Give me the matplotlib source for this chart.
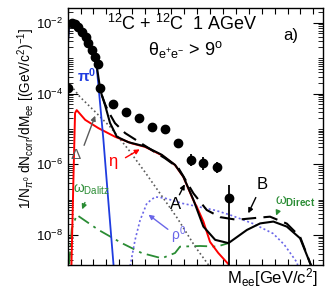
import matplotlib
matplotlib.use("Agg")
import matplotlib.pyplot as plt
import numpy as np
from matplotlib.ticker import LogLocator, FuncFormatter, MultipleLocator, NullFormatter, FixedLocator

plt.rcParams['font.family'] = ['Liberation Sans', 'DejaVu Sans']
plt.rcParams['mathtext.fontset'] = 'custom'
plt.rcParams['mathtext.rm'] = 'Liberation Sans'
plt.rcParams['mathtext.it'] = 'Liberation Sans:italic'
plt.rcParams['mathtext.bf'] = 'Liberation Sans:bold'

# measured spectrum (GeV/c^2, yield)
m_data = [0.004, 0.020, 0.036, 0.051, 0.070, 0.087, 0.099, 0.116, 0.130, 0.145, 0.157,
          0.221, 0.283, 0.345, 0.407, 0.471, 0.532, 0.595, 0.656, 0.721, 0.782]
y_data = [1.43e-4, 9.6e-3, 9.2e-3, 7.6e-3, 5.6e-3, 3.9e-3, 2.7e-3, 1.7e-3, 1.07e-3, 6.8e-4, 1.43e-4,
          5.0e-5, 3.0e-5, 2.0e-5, 1.15e-5, 9.7e-6, 3.9e-6, 1.33e-6, 1.12e-6, 8.6e-7, 1.1e-7]
err_lo = [0, 0, 0, 0, 0, 0, 0, 0, 0, 0, 0,
          0, 0, 0, 0, 0, 0, 4.4e-7, 4.3e-7, 3.0e-7, 1.099e-7]
err_hi = [0, 0, 0, 0, 0, 0, 0, 0, 0, 0, 0,
          0, 0, 0, 0, 0, 0, 6.2e-7, 5.0e-7, 3.0e-7, 1.5e-7]

# model curves
m_total = [0.002, 0.006, 0.012, 0.020, 0.040, 0.060, 0.080, 0.100, 0.120, 0.140, 0.150, 0.157,
           0.165, 0.181, 0.205, 0.238, 0.294, 0.374, 0.455, 0.519, 0.559, 0.608, 0.656, 0.713,
           0.777, 0.866, 0.930, 0.994, 1.059, 1.123, 1.180]
y_total = [3.0e-3, 7.5e-3, 9.8e-3, 1.0e-2, 8.3e-3, 6.3e-3, 4.4e-3, 2.6e-3, 1.45e-3, 6.5e-4, 2.6e-4, 1.4e-4,
           9.1e-5, 4.7e-5, 1.47e-5, 6.0e-6, 4.2e-6, 3.2e-6, 1.85e-6, 9.6e-7, 4.5e-7, 9.8e-8, 1.73e-8, 7.3e-9,
           5.9e-9, 1.39e-8, 2.13e-8, 2.4e-8, 1.73e-8, 8.1e-9, 1.2e-9]

m_modelB = [0.165, 0.181, 0.197, 0.229, 0.278, 0.342, 0.407, 0.471, 0.535, 0.559, 0.608, 0.672,
            0.737, 0.817, 0.898, 0.978, 1.059, 1.123, 1.180]
y_modelB = [9.1e-5, 5.0e-5, 3.1e-5, 1.45e-5, 7.6e-6, 4.4e-6, 2.5e-6, 1.47e-6, 7.9e-7, 4.6e-7, 1.5e-7, 5.1e-8,
            3.2e-8, 2.7e-8, 3.0e-8, 3.3e-8, 2.1e-8, 8.9e-9, 1.2e-9]

m_pi0 = [0.002, 0.006, 0.012, 0.020, 0.040, 0.060, 0.080, 0.100, 0.120, 0.140, 0.150, 0.173, 0.197, 0.224]
y_pi0 = [3.0e-3, 7.5e-3, 9.8e-3, 1.0e-2, 8.3e-3, 6.3e-3, 4.4e-3, 2.6e-3, 1.45e-3, 6.0e-4, 1.45e-4, 4.9e-6,
         8.7e-8, 1.0e-9]

m_eta = [0.018, 0.028, 0.036, 0.044, 0.085, 0.149, 0.229, 0.310, 0.374, 0.455, 0.519, 0.559, 0.608,
         0.624, 0.656, 0.688, 0.728, 0.777, 0.782]
y_eta = [1.0e-9, 3.6e-7, 2.8e-5, 3.4e-5, 1.8e-5, 1.05e-5, 6.0e-6, 3.9e-6, 3.1e-6, 1.8e-6, 9.5e-7, 4.4e-7,
         9.5e-8, 6.3e-8, 2.4e-8, 6.4e-9, 3.1e-9, 1.5e-9, 1.0e-9]

m_delta = [0.015, 0.060, 0.125, 0.205, 0.294, 0.374, 0.450, 0.530, 0.616, 0.700]
y_delta = [1.7e-4, 8.0e-5, 3.4e-5, 1.15e-5, 2.6e-6, 6.0e-7, 1.4e-7, 3.0e-8, 4.7e-9, 1.0e-9]

m_omega_dal = [0.008, 0.020, 0.044, 0.149, 0.262, 0.358, 0.455, 0.519, 0.543, 0.640, 0.721, 0.777]
y_omega_dal = [1.5e-9, 1.5e-8, 3.7e-8, 1.4e-8, 5.9e-9, 3.1e-9, 2.2e-9, 3.1e-9, 4.7e-9, 4.9e-9, 4.7e-9, 5.9e-9]

m_rho = [0.298, 0.326, 0.350, 0.383, 0.423, 0.471, 0.552, 0.616, 0.713, 0.785, 0.896, 0.993, 1.046,
         1.109, 1.115]
y_rho = [1.0e-9, 7.3e-9, 2.6e-8, 7.9e-8, 1.2e-7, 1.1e-7, 7.9e-8, 6.6e-8, 5.0e-8, 3.7e-8, 2.1e-8, 1.1e-8,
         5.4e-9, 1.65e-9, 1.0e-9]

# labelled decades on the y axis
y_labelled = [1e-8, 1e-6, 1e-4, 1e-2]
y_unlabelled = [1e-9, 1e-7, 1e-5, 1e-3]

c_blue = '#1f3ce0'
c_rho = '#6a66e8'
c_green = '#2a8c34'
c_gray = '#5a5a5a'

fig = plt.figure(figsize=(3.25, 2.89), dpi=100)
ax = fig.add_axes([0.208, 0.083, 0.786, 0.889])

ax.plot(m_omega_dal, y_omega_dal, color=c_green, lw=1.3, dashes=(7, 3, 1.5, 3))
ax.plot(m_rho, y_rho, color=c_rho, lw=1.2, ls=(0, (1.2, 1.5)))
ax.plot(m_delta, y_delta, color=c_gray, lw=1.2, ls=(0, (1, 1.6)))
ax.plot(m_eta, y_eta, color='red', lw=1.4)
ax.plot(m_pi0, y_pi0, color=c_blue, lw=1.3)
ax.plot(m_modelB, y_modelB, color='black', lw=1.5, dashes=(7, 3.5))
ax.plot(m_total, y_total, color='black', lw=1.5)
ax.errorbar(m_data, y_data, yerr=[err_lo, err_hi], fmt='o', color='black', ms=6, elinewidth=1.3,
            capsize=0, zorder=5)

ax.set_yscale('log')
ax.set_xlim(0, 1.234)
ax.set_ylim(1.42e-9, 2.6e-2)

minor_y = [s * 10.0 ** e for e in range(-10, -1) for s in range(2, 10)] + y_unlabelled
ax.yaxis.set_major_locator(FixedLocator(y_labelled))
ax.yaxis.set_minor_locator(FixedLocator(minor_y))
ax.yaxis.set_major_formatter(FuncFormatter(lambda v, _: r'$10^{%d}$' % round(np.log10(v))))
ax.yaxis.set_minor_formatter(NullFormatter())
ax.xaxis.set_major_locator(MultipleLocator(0.0625))
ax.xaxis.set_major_formatter(NullFormatter())

ax.tick_params(axis='y', which='major', direction='in', length=7, width=0.8, right=True, labelsize=9.5, pad=3)
ax.tick_params(axis='y', which='minor', direction='in', length=3.5, width=0.6, right=True)
ax.tick_params(axis='x', which='major', direction='in', length=4, width=0.8, top=True)
for s in ax.spines.values():
    s.set_linewidth(1.0)

fig.text(0.08, 0.59, r'1/N$_{\pi^0}$ dN$_{\rm corr}$/dM$_{\rm ee}$ [(GeV/c$^2$)$^{-1}$]', fontsize=9.8,
         rotation=90, ha='center', va='center')
fig.text(0.978, 0.02, r'M$_{\rm ee}$[GeV/c$^2$]', fontsize=12, ha='right', va='baseline')

ax.text(0.155, 0.914, r'$^{12}$C + $^{12}$C  1 AGeV', transform=ax.transAxes, fontsize=13, va='baseline')
ax.text(0.315, 0.817, r'θ$_{\rm e^{+}e^{-}}$ > 9$^{\rm o}$', transform=ax.transAxes, fontsize=13, va='baseline')
ax.text(0.843, 0.875, 'a)', transform=ax.transAxes, fontsize=12, va='baseline')

ax.text(0.046, 2.1e-4, r'π$^{\mathbf{0}}$', color=c_blue, fontsize=11, fontweight='bold', va='baseline')
ax.text(0.041, 1.8e-6, 'Δ', color=c_gray, fontsize=11, ha='center', va='center')
ax.text(0.22, 1.17e-6, 'η', color='red', fontsize=12, ha='center', va='center')
ax.text(0.027, 1.86e-7, r'ω$_{\rm Dalitz}$', color=c_green, fontsize=10, va='center')
ax.text(0.534, 1.0e-8, r'ρ$^{0}$', color=c_rho, fontsize=10, ha='center', va='center')
ax.text(0.52, 7.1e-8, 'A', color='black', fontsize=12, ha='center', va='center')
ax.text(0.94, 2.6e-7, 'B', color='black', fontsize=12, ha='center', va='center')
ax.text(1.0, 8.5e-8, r'ω$_{\mathbf{Direct}}$', color=c_green, fontsize=10, va='center')

def arrow(x0, y0, x1, y1, color):
    ax.annotate('', xy=(x1, y1), xytext=(x0, y0),
                arrowprops=dict(arrowstyle='-|>', color=color, lw=1.0, mutation_scale=7))

arrow(0.075, 2.9e-6, 0.138, 2.8e-5, c_gray)
arrow(0.268, 1.4e-6, 0.36, 2.9e-6, 'red')
arrow(0.089, 9.8e-8, 0.065, 4.5e-8, c_green)
arrow(0.495, 1.3e-8, 0.38, 4.2e-8, c_rho)
arrow(0.534, 1.17e-7, 0.572, 3.2e-7, 'black')
arrow(0.915, 1.35e-7, 0.867, 3.5e-8, 'black')
arrow(1.022, 5.8e-8, 1.002, 3.0e-8, c_green)

fig.savefig('out.png', dpi=100)
